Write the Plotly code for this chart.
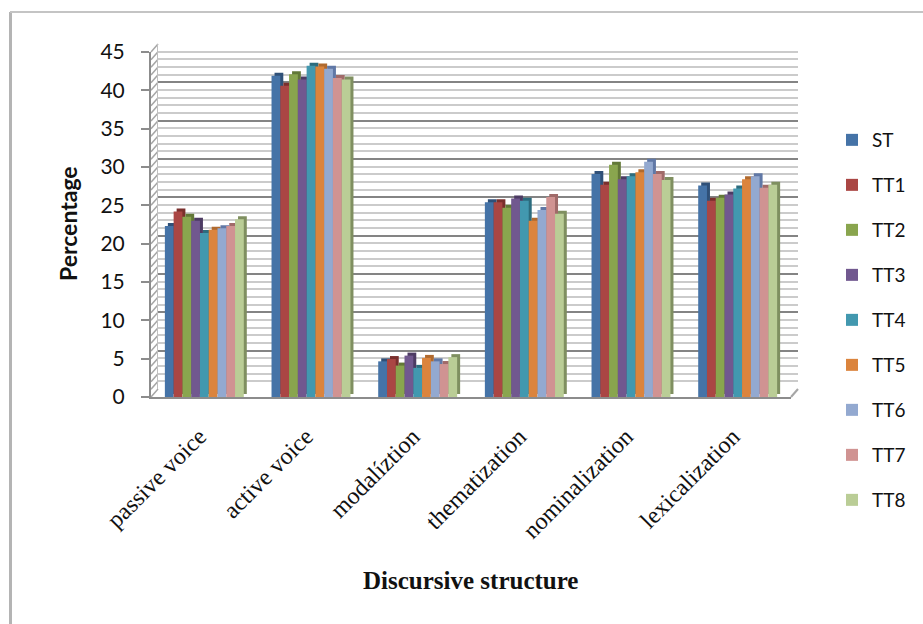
import plotly.graph_objects as go

W, H = 923, 624

categories = ["passive voice", "active voice", "modalíztion", "thematization", "nominalization", "lexicalization"]
ST = [22.3, 41.9, 4.65, 25.4, 29.1, 27.6]
TT1 = [24.2, 40.6, 4.95, 25.4, 27.7, 25.6]
TT2 = [23.5, 42.1, 4.1, 24.7, 30.3, 26.0]
TT3 = [23.0, 41.4, 5.4, 25.9, 28.4, 26.4]
TT4 = [21.4, 43.2, 3.8, 25.6, 28.8, 27.2]
TT5 = [21.8, 43.1, 5.1, 23.0, 29.3, 28.4]
TT6 = [22.0, 42.8, 4.65, 24.4, 30.7, 28.8]
TT7 = [22.3, 41.6, 4.3, 26.1, 29.1, 27.3]
TT8 = [23.2, 41.4, 5.2, 23.9, 28.3, 27.7]

series = [("ST", ST, "#4573A7", "#2F5078"), ("TT1", TT1, "#AA4644", "#7A2F2D"),
          ("TT2", TT2, "#89A54E", "#627837"), ("TT3", TT3, "#71588F", "#4D3B63"),
          ("TT4", TT4, "#4298AF", "#2C6C7E"), ("TT5", TT5, "#DB843D", "#B06A2F"),
          ("TT6", TT6, "#93A9D0", "#6078A6"), ("TT7", TT7, "#D09392", "#A06A69"),
          ("TT8", TT8, "#BACD96", "#7F8F60")]

y_ticks = list(range(0, 50, 5))
y_max = 45


def px(x):
    return x / W


def py(y):
    return 1 - y / H


# pixel geometry of the faux-3D frame
FL, FR, FT, FB = 151, 791, 52, 397      # front plane
BL, BR, BT, BB = 158, 798, 44, 389      # back wall
DX, DY = 3, 3                           # bar depth

fig = go.Figure()

# back wall (gridlines only)
fig.add_trace(go.Bar(x=categories, y=ST, marker_color="rgba(0,0,0,0)", showlegend=False,
                     hoverinfo="skip", xaxis="x", yaxis="y"))

# bar sides
for name, vals, col, dark in series:
    fig.add_trace(go.Bar(x=categories, y=vals, name=name, marker_color=dark, marker_line_width=0,
                         showlegend=False, hoverinfo="skip", xaxis="x2", yaxis="y2"))
# bar fronts
for name, vals, col, dark in series:
    fig.add_trace(go.Bar(x=categories, y=vals, name=name, marker_color=col, marker_line_width=0,
                         legendgroup=name, xaxis="x3", yaxis="y3"))

shapes = []
GRID = "#cbcbcb"
AX = "#8c8c8c"
for v in range(0, y_max + 1):
    yf = FB - (FB - FT) * v / y_max
    yb = BB - (BB - BT) * v / y_max
    shapes.append(dict(type="line", xref="paper", yref="paper", layer="below",
                       x0=px(FL), x1=px(BL), y0=py(yf), y1=py(yb),
                       line=dict(color="#a6a6a6", width=1.5)))
# floor and frame
shapes += [
    dict(type="line", xref="paper", yref="paper", layer="below", x0=px(FR), x1=px(BR), y0=py(FB), y1=py(BB),
         line=dict(color="#a6a6a6", width=2)),
    dict(type="line", xref="paper", yref="paper", x0=px(10.5), x1=px(10.5), y0=py(12), y1=py(H),
         line=dict(color="#b4b4b4", width=3)),
    dict(type="line", xref="paper", yref="paper", x0=px(10), x1=px(W), y0=py(12), y1=py(12),
         line=dict(color="#c4c4c4", width=2)),
]

hidden = dict(showticklabels=False, ticks="", showgrid=False, zeroline=False, automargin=False)
fig.update_layout(
    template="none",
    width=W, height=H, margin=dict(l=0, r=0, t=0, b=0), autosize=False,
    paper_bgcolor="white", plot_bgcolor="rgba(0,0,0,0)",
    barmode="group", bargap=0.26, bargroupgap=0,
    font=dict(family="Lato", color="#111111", size=18),
    shapes=shapes,
    xaxis=dict(domain=[px(BL), px(BR)], anchor="y", showline=False, **hidden),
    yaxis=dict(domain=[py(BB), py(BT)], anchor="x", range=[0, y_max], tickvals=y_ticks, automargin=False,
               showticklabels=False, ticks="", zeroline=False, showline=True, linecolor="#c0c0c0", linewidth=1,
               showgrid=True, gridcolor="#848484", gridwidth=1.5,
               minor=dict(dtick=1, showgrid=True, gridcolor=GRID, gridwidth=2, ticks="")),
    xaxis2=dict(domain=[px(FL + DX), px(FR + DX)], anchor="y2", showline=False, **hidden),
    yaxis2=dict(domain=[py(FB - DY), py(FT - DY)], anchor="x2", range=[0, y_max], showline=False, **hidden),
    xaxis3=dict(domain=[px(FL), px(FR)], anchor="y3", showline=True, linecolor=AX, linewidth=2, automargin=False,
                ticks="", showgrid=False, zeroline=False, tickangle=-45, ticklabelstandoff=14, ticklabelshift=-5,
                tickfont=dict(family="Liberation Serif", size=24, color="#111111")),
    yaxis3=dict(domain=[py(FB), py(FT)], anchor="x3", range=[0, y_max], tickvals=y_ticks, automargin=False,
                showline=True, linecolor=AX, linewidth=2, ticks="outside", ticklen=8, tickcolor=AX, tickwidth=1.5,
                ticklabelstandoff=12,
                showgrid=False, zeroline=False, tickfont=dict(family="Lato", size=21, color="#111111")),
    legend=dict(x=px(832), y=py(121), xanchor="left", yanchor="top", bgcolor="rgba(0,0,0,0)",
                font=dict(family="Lato", size=19, color="#111111"), tracegroupgap=17.3,
                traceorder="grouped", itemwidth=30),
    annotations=[
        dict(text="<b>Percentage</b>", xref="paper", yref="paper", x=px(68), y=py(224), textangle=-90,
             xanchor="center", yanchor="middle",
             showarrow=False, font=dict(family="Lato", size=23, color="#111111")),
        dict(text="<b>Discursive structure</b>", xref="paper", yref="paper", x=px(470), y=py(580),
             xanchor="center", yanchor="middle",
             showarrow=False, font=dict(family="Liberation Serif", size=25, color="#111111")),
    ],
)

fig.write_html("out.html", config={"displayModeBar": False}, post_script="document.body.style.margin='0';")
